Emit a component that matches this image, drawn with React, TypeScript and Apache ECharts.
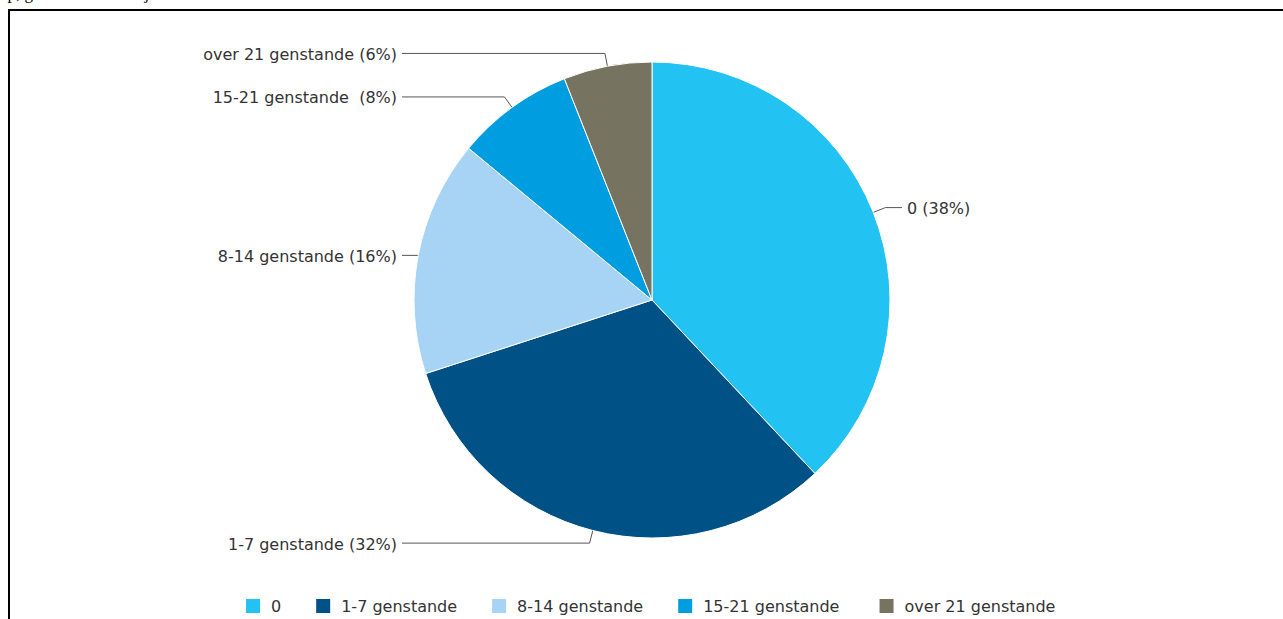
import React, { useEffect, useRef } from 'react';
import * as echarts from 'echarts';

// ---- data ----
const categories = ['0', '1-7 genstande', '8-14 genstande', '15-21 genstande ', 'over 21 genstande'];
const shares = [38, 32, 16, 8, 6];
const colors = ['#22c2f2', '#005186', '#a7d4f4', '#009ee0', '#767460'];

// ---- layout / style ----
const FONT = '"DejaVu Sans", Verdana, sans-serif';
const CX = 642;
const CY = 289;
const R = 238;
const LINE_END = 250;
const TEXT_OFFSET = 255;

export default function App() {
  const ref = useRef<HTMLDivElement>(null);

  useEffect(() => {
    const chart = echarts.init(ref.current!, null, { renderer: 'svg' });
    const total = shares.reduce((a, b) => a + b, 0);

    const geom = (idx: number) => {
      let cum = 0;
      for (let i = 0; i < idx; i++) cum += shares[i];
      const theta = (2 * Math.PI * (cum + shares[idx] / 2)) / total;
      const dx = Math.sin(theta);
      const dy = -Math.cos(theta);
      const side = dx < 0 ? -1 : 1;
      const breakR = Math.min(R + 13, (LINE_END - 16) / Math.max(Math.abs(dx), 1e-6));
      const p0 = [CX + dx * R * 0.905, CY + dy * R * 0.905];
      const p1 = [CX + dx * breakR, CY + dy * breakR];
      const p2 = [CX + side * LINE_END, p1[1]];
      return { p0, p1, p2, side };
    };

    chart.setOption({
      animation: false,
      color: colors,
      legend: {
        left: 229,
        top: 581,
        itemWidth: 16,
        itemHeight: 16,
        itemGap: 33,
        icon: 'rect',
        selectedMode: false,
        data: categories,
        textStyle: { fontFamily: FONT, fontSize: 16, color: '#333', padding: [0, 0, 0, 5] },
      },
      series: [
        {
          type: 'pie',
          center: [CX, CY],
          radius: R,
          startAngle: 90,
          clockwise: true,
          avoidLabelOverlap: false,
          emphasis: { disabled: true },
          data: categories.map((n, i) => ({ name: n, value: shares[i] })),
          itemStyle: { borderColor: '#ffffff', borderWidth: 1 },
          label: {
            show: true,
            position: 'outside',
            fontFamily: FONT,
            fontSize: 16,
            color: '#333',
            formatter: (p: any) => `${p.name} (${Math.round(p.percent)}%)`,
          },
          labelLine: {
            show: true,
            length: 10,
            length2: 10,
            lineStyle: { color: '#555', width: 1 },
          },
          labelLayout: (params: any) => {
            const g = geom(params.dataIndex);
            return {
              x: CX + g.side * TEXT_OFFSET,
              y: g.p1[1] + 1,
              align: g.side < 0 ? 'right' : 'left',
              verticalAlign: 'middle',
              labelLinePoints: [g.p0, g.p1, g.p2],
            };
          },
        },
      ],
    });

    return () => chart.dispose();
  }, []);

  return (
    <div
      style={{
        position: 'fixed',
        left: 0,
        top: 0,
        width: 1283,
        height: 619,
        overflow: 'hidden',
        background: '#fff',
      }}
    >
      <div
        style={{
          position: 'absolute',
          left: -1,
          top: -16,
          fontFamily: '"Liberation Serif", serif',
          fontSize: 17,
          whiteSpace: 'nowrap',
          color: '#000',
        }}
      >
        op, genstande i alt i hjemmet
      </div>
      <div
        style={{
          position: 'absolute',
          left: 8,
          top: 9,
          width: 1275,
          height: 610,
          borderTop: '2px solid #000',
          borderLeft: '2px solid #000',
          boxSizing: 'border-box',
        }}
      >
        <div ref={ref} style={{ width: 1273, height: 608 }} />
      </div>
    </div>
  );
}
